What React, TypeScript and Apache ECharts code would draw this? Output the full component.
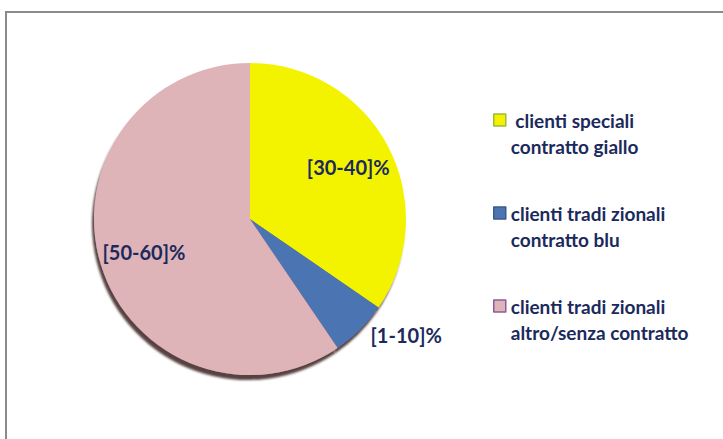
import React, { useEffect, useRef } from "react";
import * as echarts from "echarts";

const categories = [
  "clienti speciali\ncontratto giallo",
  "clienti tradizionali\ncontratto blu",
  "clienti tradizionali\naltro/senza contratto",
];
const legendNames = [
  " clienti speciali\ncontratto giallo",
  "clienti tradi zionali\ncontratto blu",
  "clienti tradi zionali\naltro/senza contratto",
];
const values = [34.6, 5.9, 59.5];
const sliceLabels = ["[30-40]%", "[1-10]%", "[50-60]%"];
const colors = ["#F3F300", "#4C74B2", "#DFB4B8"];
const legendBorders = ["#9DBA3A", "#3A5A8C", "#8A5C9C"];
const labelPositions = ["inside", "outside", "inside"];

const TEXT = "#1B2A5C";
const FONT = "Lato, 'Open Sans', sans-serif";

export default function App() {
  const ref = useRef<HTMLDivElement>(null);
  useEffect(() => {
    document.body.style.margin = "0";
    const chart = echarts.init(ref.current!, null, { renderer: "svg" });
    const data = categories.map((c, i) => ({
      name: legendNames[i],
      value: values[i],
      itemStyle: { color: colors[i] },
    }));
    const labelData = categories.map((c, i) => ({
      name: legendNames[i],
      value: values[i],
      label: {
        show: true,
        position: labelPositions[i],
        formatter: sliceLabels[i],
      },
      labelLine: { show: false, length: 8, length2: 0 },
    }));
    chart.setOption({
      animation: false,
      backgroundColor: "#ffffff",
      legend: {
        orient: "vertical",
        left: 493,
        top: 81,
        padding: 0,
        itemGap: 15,
        itemWidth: 12,
        itemHeight: 12,
        icon: "rect",
        selectedMode: false,
        formatter: (name: string) => " \n" + name,
        data: legendNames.map((n, i) => ({
          name: n,
          itemStyle: { color: colors[i], borderColor: legendBorders[i], borderWidth: 1.5 },
        })),
        textStyle: {
          color: TEXT,
          fontFamily: FONT,
          fontWeight: "bold",
          fontSize: 19,
          lineHeight: 26,
        },
      },
      graphic: [
        {
          type: "rect",
          shape: { x: 6, y: 12, width: 800, height: 500 },
          style: { fill: "none", stroke: "#8a8a8a", lineWidth: 2 },
          silent: true,
        },
      ],
      series: [
        {
          type: "pie",
          center: [250, 219],
          radius: 156,
          startAngle: 90,
          clockwise: true,
          silent: true,
          label: { show: false },
          labelLine: { show: false },
          itemStyle: {
            shadowColor: "rgba(70,45,45,0.9)",
            shadowBlur: 2,
            shadowOffsetX: -2,
            shadowOffsetY: 5,
          },
          emphasis: { disabled: true },
          data,
        },
        {
          type: "pie",
          center: [250, 219],
          radius: [60, 156],
          startAngle: 90,
          clockwise: true,
          silent: true,
          itemStyle: { color: "rgba(0,0,0,0)" },
          label: {
            color: TEXT,
            fontFamily: FONT,
            fontWeight: "bold",
            fontSize: 20,
          },
          emphasis: { disabled: true },
          data: labelData,
        },
      ],
    });
    return () => chart.dispose();
  }, []);
  return <div ref={ref} style={{ width: 723, height: 439 }} />;
}
